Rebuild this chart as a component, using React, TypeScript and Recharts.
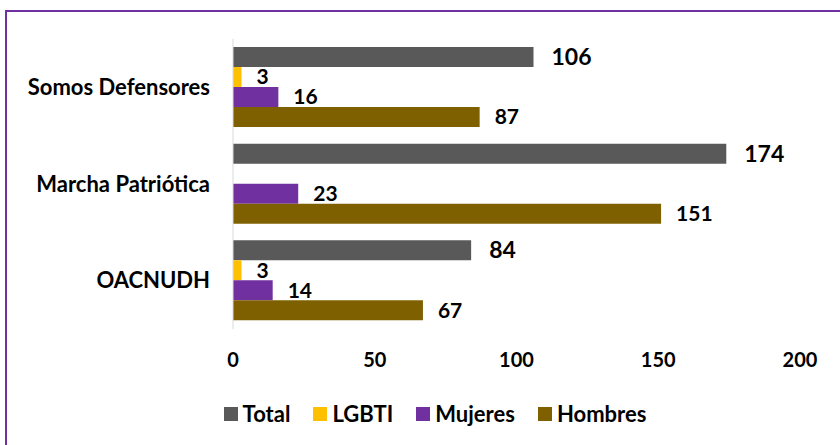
import { BarChart, Bar, XAxis, YAxis, Legend, LabelList } from 'recharts';

// ── Data ──────────────────────────────────────────────────────────────────────

const categories = ['Somos Defensores', 'Marcha Patriótica', 'OACNUDH'];
const total = [106, 174, 84];
const lgbti = [3, 0, 3];
const mujeres = [16, 23, 14];
const hombres = [87, 151, 67];
const xTicks = [0, 50, 100, 150, 200];

const seriesNames = ['Total', 'LGBTI', 'Mujeres', 'Hombres'];
const seriesColors = ['#595959', '#FFC000', '#7030A0', '#7F6000'];

const data = categories.map((name, i) => ({
    name,
    Total: total[i],
    LGBTI: lgbti[i],
    Mujeres: mujeres[i],
    Hombres: hombres[i],
}));

const FONT = 'Lato, "Open Sans", sans-serif';

const hideZero = (v: any) => (v === 0 ? '' : v);

// ── Legend ────────────────────────────────────────────────────────────────────

function CustomLegend() {
    return (
        <div style={{ display: 'flex', justifyContent: 'center', gap: 23, paddingLeft: 62, fontSize: 22, fontWeight: 700, fontFamily: FONT, color: '#000', lineHeight: '28px', height: 28 }}>
            {seriesNames.map((s, i) => (
                <div key={s} style={{ display: 'flex', alignItems: 'center', gap: 5 }}>
                    <span style={{ display: 'inline-block', width: 14, height: 14, background: seriesColors[i] }} />
                    <span>{s}</span>
                </div>
            ))}
        </div>
    );
}

// ── Component ─────────────────────────────────────────────────────────────────

export default function App() {
    return (
        <div style={{ position: 'absolute', left: 0, top: 0, width: 840, height: 445, background: '#fff', overflow: 'hidden', fontFamily: FONT }}>
            <div
                style={{
                    position: 'absolute', left: 5, top: 10, width: 860, height: 460,
                    borderTop: '2px solid #7030A0', borderLeft: '2px solid #7030A0',
                }}
            />
            <div style={{ position: 'absolute', left: 0, top: 0 }}>
                <BarChart
                    width={840}
                    height={445}
                    data={data}
                    layout="vertical"
                    barSize={20}
                    barGap={0}
                    margin={{ top: 39, right: 40, left: 8, bottom: 17 }}
                >
                    <XAxis
                        type="number"
                        domain={[0, 200]}
                        ticks={xTicks}
                        axisLine={false}
                        tickLine={false}
                        tickMargin={18}
                        height={71}
                        tick={{ fill: '#000', fontSize: 20, fontWeight: 700, fontFamily: FONT }}
                    />
                    <YAxis
                        type="category"
                        dataKey="name"
                        width={225}
                        axisLine={{ stroke: '#d9d9d9' }}
                        tickLine={false}
                        tick={{ fill: '#000', fontSize: 22, fontWeight: 700, fontFamily: FONT, dx: -15 }}
                    />
                    <Legend verticalAlign="bottom" content={<CustomLegend />} />
                    <Bar dataKey="Total" fill={seriesColors[0]} isAnimationActive={false}>
                        <LabelList dataKey="Total" position="right" offset={18} fill="#000" fontSize={23} fontWeight={700} fontFamily={FONT} />
                    </Bar>
                    <Bar dataKey="LGBTI" fill={seriesColors[1]} isAnimationActive={false}>
                        <LabelList dataKey="LGBTI" position="right" offset={15} fill="#000" fontSize={21} fontWeight={700} fontFamily={FONT} formatter={hideZero} />
                    </Bar>
                    <Bar dataKey="Mujeres" fill={seriesColors[2]} isAnimationActive={false}>
                        <LabelList dataKey="Mujeres" position="right" offset={15} fill="#000" fontSize={21} fontWeight={700} fontFamily={FONT} />
                    </Bar>
                    <Bar dataKey="Hombres" fill={seriesColors[3]} isAnimationActive={false}>
                        <LabelList dataKey="Hombres" position="right" offset={15} fill="#000" fontSize={21} fontWeight={700} fontFamily={FONT} />
                    </Bar>
                </BarChart>
            </div>
        </div>
    );
}
